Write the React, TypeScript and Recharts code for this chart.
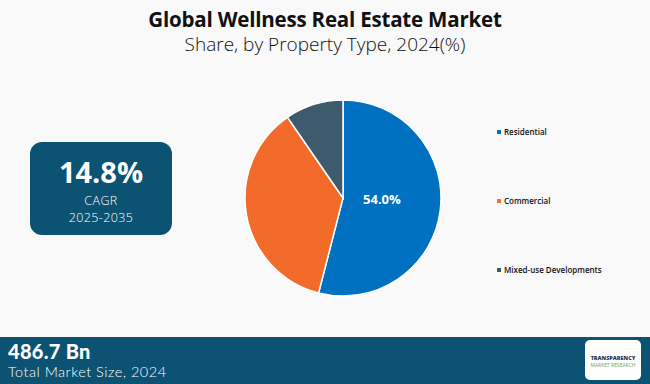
import { PieChart, Pie, Cell, Legend } from "recharts";

const segments = ["Residential", "Commercial", "Mixed-use Developments"];
const shares = [54.0, 36.4, 9.6];
const colors = ["#0070C0", "#F26B2A", "#3D5B6C"];

const data = segments.map((name, i) => ({ name, value: shares[i] }));

const RAD = Math.PI / 180;

function renderLabel(props: any) {
  const { cx, cy, midAngle, outerRadius, index, value } = props;
  if (index !== 0) return null;
  const r = outerRadius * 0.4;
  const x = cx + r * Math.cos(-midAngle * RAD);
  const y = cy + r * Math.sin(-midAngle * RAD);
  return (
    <text x={x} y={y - 4} fill="#fff" textAnchor="middle" dominantBaseline="central"
      style={{ fontFamily: "Open Sans", fontWeight: 700, fontSize: 13 }}>
      {value.toFixed(1)}%
    </text>
  );
}

function LegendList() {
  return (
    <div style={{ fontFamily: "Open Sans", fontSize: 8, fontWeight: 600, color: "#111" }}>
      {data.map((d, i) => (
        <div key={d.name} style={{ display: "flex", alignItems: "center", height: 69 }}>
          <span style={{ width: 4, height: 4, background: colors[i], marginRight: 3 }} />
          {d.name}
        </div>
      ))}
    </div>
  );
}

export default function App() {
  return (
    <div style={{ position: "absolute", left: 0, top: 0, width: 650, height: 384, background: "#F9F9F9", overflow: "hidden", fontFamily: "Open Sans" }}>
      <div style={{ position: "absolute", top: 5, width: 650, textAlign: "center", fontSize: 20.5, fontWeight: 700, color: "#111", letterSpacing: -0.2, lineHeight: "28px" }}>
        Global Wellness Real Estate Market
      </div>
      <div style={{ position: "absolute", top: 31, width: 650, textAlign: "center", fontSize: 19, fontWeight: 300, color: "#111", lineHeight: "26px" }}>
        Share, by Property Type, 2024(%)
      </div>

      <div style={{ position: "absolute", left: 30, top: 142, width: 142, height: 93, borderRadius: 12, background: "#0B5273", color: "#fff", textAlign: "center" }}>
        <div style={{ fontSize: 29, fontWeight: 700, marginTop: 10, lineHeight: "40px", height: 40 }}>14.8%</div>
        <div style={{ fontSize: 12.5, fontWeight: 300, lineHeight: "17px", height: 17, letterSpacing: 0.4 }}>CAGR</div>
        <div style={{ fontSize: 12.5, fontWeight: 300, lineHeight: "17px", height: 17, letterSpacing: 0.4 }}>2025-2035</div>
      </div>

      <div style={{ position: "absolute", left: 0, top: 0 }}>
        <PieChart width={650} height={384}>
          <Pie data={data} dataKey="value" nameKey="name" cx={338} cy={193} outerRadius={98}
            startAngle={90} endAngle={-270} stroke="#fff" strokeWidth={1.5}
            label={renderLabel} labelLine={false} isAnimationActive={false}>
            {data.map((d, i) => <Cell key={d.name} fill={colors[i]} />)}
          </Pie>
          <Legend content={<LegendList />} wrapperStyle={{ position: "absolute", left: 497, top: 97, width: 150 }} />
        </PieChart>
      </div>

      <div style={{ position: "absolute", left: 0, top: 337, width: 650, height: 47, background: "#0B5273", color: "#fff", fontFamily: "Lato" }}>
        <div style={{ position: "absolute", left: 8, top: 1.5, fontSize: 20, fontWeight: 900, lineHeight: "24px", height: 24, letterSpacing: 0.3 }}>486.7 Bn</div>
        <div style={{ position: "absolute", left: 8, top: 25.5, fontSize: 14.5, fontWeight: 300, lineHeight: "17.4px", height: 17.4, letterSpacing: 0.5 }}>Total Market Size, 2024</div>
        <div style={{ position: "absolute", left: 585, top: 3, width: 56, height: 40, borderRadius: 5, background: "#fff", textAlign: "center", fontFamily: "Open Sans" }}>
          <div style={{ fontSize: 5.5, fontWeight: 800, color: "#1d3557", marginTop: 15, lineHeight: "7px" }}>TRANSPARENCY</div>
          <div style={{ fontSize: 5, color: "#6aa84f", lineHeight: "7px" }}>MARKET RESEARCH</div>
        </div>
      </div>
    </div>
  );
}
